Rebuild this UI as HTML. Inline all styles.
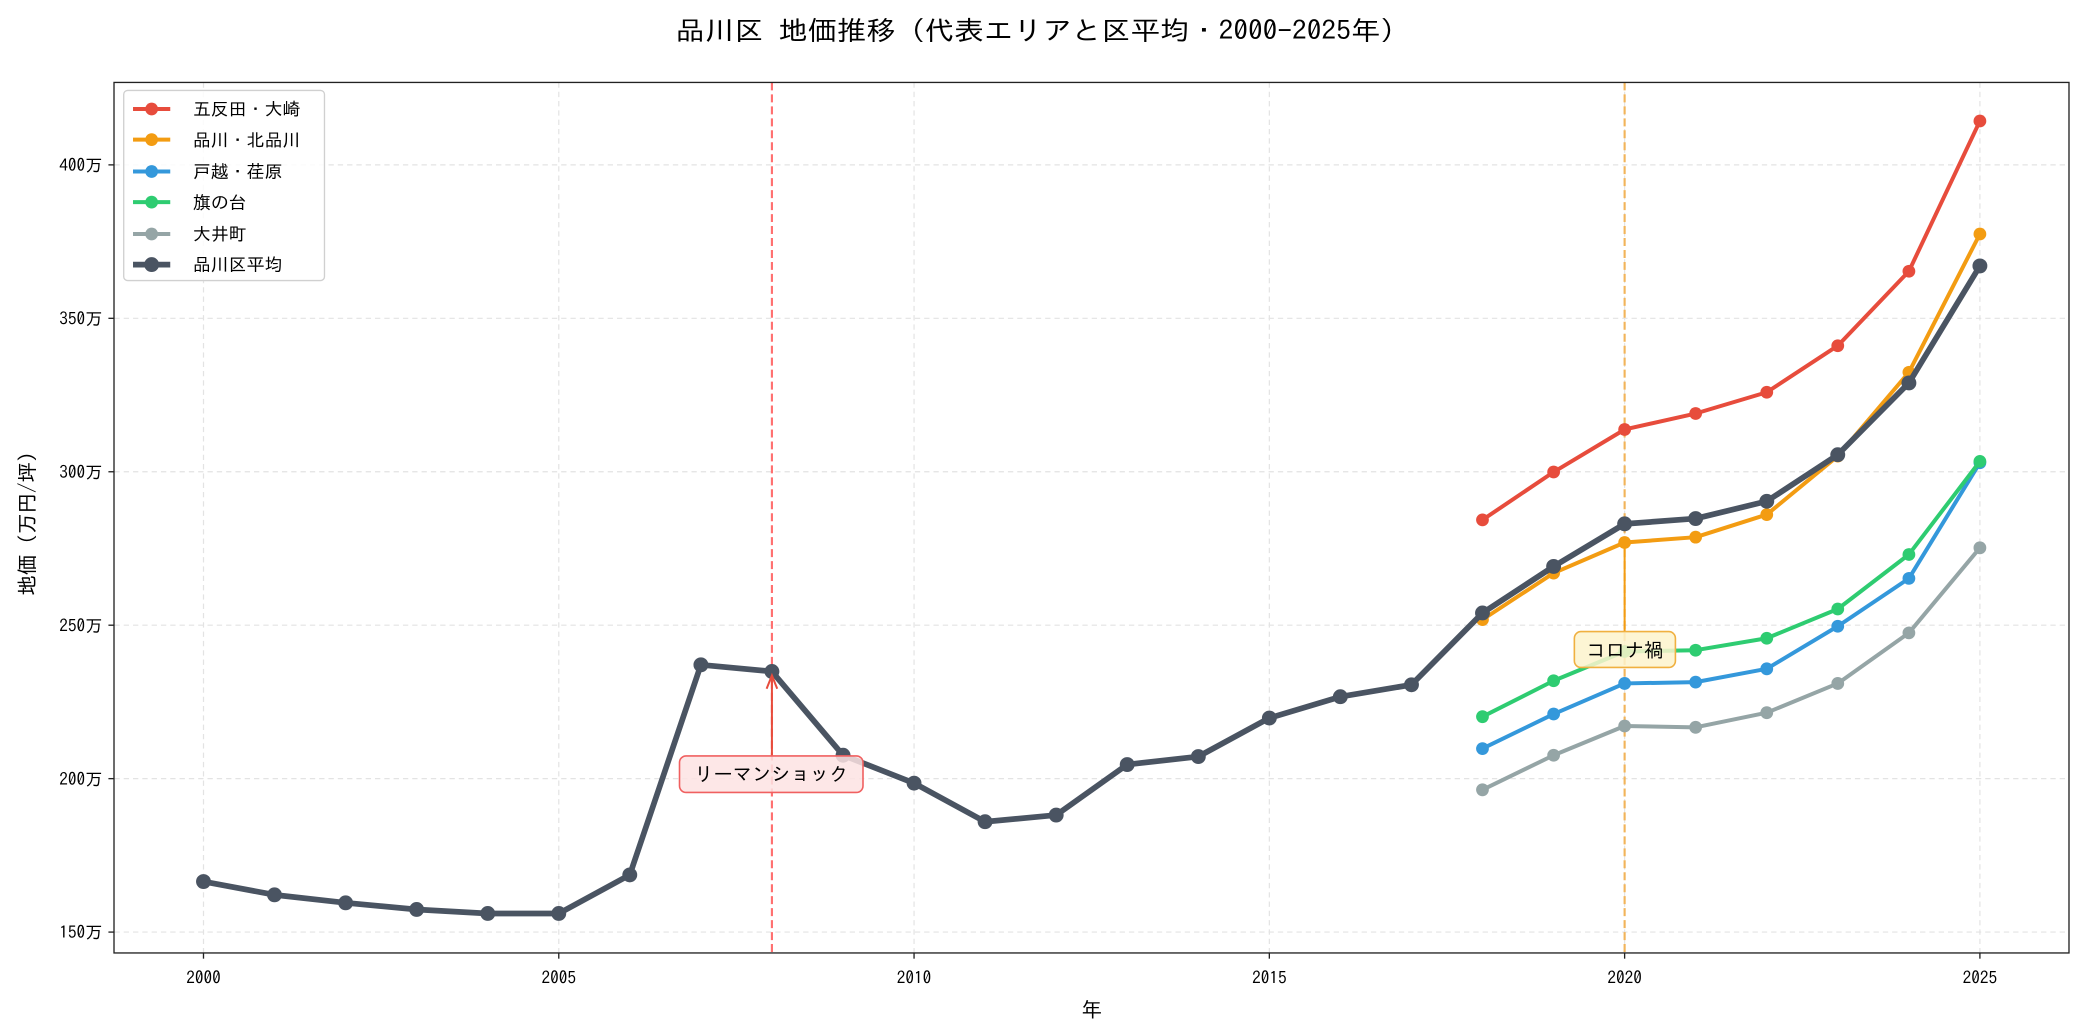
<!DOCTYPE html>
<html><head><meta charset="utf-8"><style>
html,body{margin:0;padding:0;background:#fff}
svg{display:block}
text{font-family:"IPAGothic","Liberation Sans","Noto Sans CJK JP",sans-serif;fill:#000}
</style></head><body>
<svg width="2085" height="1035" viewBox="0 0 1568 778.4" xmlns="http://www.w3.org/2000/svg">
<defs>
<marker id="mr" markerUnits="userSpaceOnUse" markerWidth="12" markerHeight="12" refX="6" refY="6"><circle cx="6" cy="6" r="4.8" fill="#e74c3c"/></marker>
<marker id="mo" markerUnits="userSpaceOnUse" markerWidth="12" markerHeight="12" refX="6" refY="6"><circle cx="6" cy="6" r="4.8" fill="#f39c12"/></marker>
<marker id="mb" markerUnits="userSpaceOnUse" markerWidth="12" markerHeight="12" refX="6" refY="6"><circle cx="6" cy="6" r="4.8" fill="#3498db"/></marker>
<marker id="mg" markerUnits="userSpaceOnUse" markerWidth="12" markerHeight="12" refX="6" refY="6"><circle cx="6" cy="6" r="4.8" fill="#2ecc71"/></marker>
<marker id="mgr" markerUnits="userSpaceOnUse" markerWidth="12" markerHeight="12" refX="6" refY="6"><circle cx="6" cy="6" r="4.8" fill="#95a5a6"/></marker>
<marker id="ma" markerUnits="userSpaceOnUse" markerWidth="14" markerHeight="14" refX="7" refY="7"><circle cx="7" cy="7" r="5.6" fill="#4a5462"/></marker>
</defs>
<text x="784" y="30" font-size="20" text-anchor="middle" textLength="552" lengthAdjust="spacingAndGlyphs">品川区 地価推移（代表エリアと区平均・2000-2025年）</text>
<g stroke="#e3e3e3" stroke-width="0.9" stroke-dasharray="4,3">
<line x1="153" y1="62" x2="153" y2="717"/><line x1="420.2" y1="62" x2="420.2" y2="717"/><line x1="687.4" y1="62" x2="687.4" y2="717"/><line x1="954.6" y1="62" x2="954.6" y2="717"/><line x1="1221.8" y1="62" x2="1221.8" y2="717"/><line x1="1489" y1="62" x2="1489" y2="717"/>
<line x1="86" y1="701" x2="1556" y2="701"/><line x1="86" y1="585.6" x2="1556" y2="585.6"/><line x1="86" y1="470.2" x2="1556" y2="470.2"/><line x1="86" y1="354.8" x2="1556" y2="354.8"/><line x1="86" y1="239.4" x2="1556" y2="239.4"/><line x1="86" y1="124" x2="1556" y2="124"/>
</g>
<line x1="580.5" y1="62" x2="580.5" y2="717" stroke="#ff7070" stroke-width="1.6" stroke-dasharray="6,3"/>
<line x1="1221.8" y1="62" x2="1221.8" y2="717" stroke="#f2b45a" stroke-width="1.6" stroke-dasharray="6,3"/>
<g fill="none" stroke-linejoin="round">
<polyline stroke="#e74c3c" stroke-width="3" marker-start="url(#mr)" marker-mid="url(#mr)" marker-end="url(#mr)" points="1114.9,391 1168.4,355 1221.8,323 1275.2,311 1328.7,295 1382.1,260 1435.6,204 1489,91"/>
<polyline stroke="#f39c12" stroke-width="3" marker-start="url(#mo)" marker-mid="url(#mo)" marker-end="url(#mo)" points="1114.9,466 1168.4,431 1221.8,408 1275.2,404 1328.7,387 1382.1,343 1435.6,280 1489,176"/>
<polyline stroke="#3498db" stroke-width="3" marker-start="url(#mb)" marker-mid="url(#mb)" marker-end="url(#mb)" points="1114.9,563 1168.4,537 1221.8,514 1275.2,513 1328.7,503 1382.1,471 1435.6,435 1489,348"/>
<polyline stroke="#2ecc71" stroke-width="3" marker-start="url(#mg)" marker-mid="url(#mg)" marker-end="url(#mg)" points="1114.9,539 1168.4,512 1221.8,490 1275.2,489 1328.7,480 1382.1,458 1435.6,417 1489,347"/>
<polyline stroke="#95a5a6" stroke-width="3" marker-start="url(#mgr)" marker-mid="url(#mgr)" marker-end="url(#mgr)" points="1114.9,594 1168.4,568 1221.8,546 1275.2,547 1328.7,536 1382.1,514 1435.6,476 1489,412"/>
<polyline stroke="#4a5462" stroke-width="4.3" marker-start="url(#ma)" marker-mid="url(#ma)" marker-end="url(#ma)" points="153,663 206.4,673 259.9,679 313.3,684 366.8,687 420.2,687 473.6,658 527.1,500 580.5,505 634,568 687.4,589 740.8,618 794.3,613 847.7,575 901.2,569 954.6,540 1008,524 1061.5,515 1114.9,461 1168.4,426 1221.8,394 1275.2,390 1328.7,377 1382.1,342 1435.6,288 1489,200"/>
</g>
<line x1="580.5" y1="568" x2="580.5" y2="510" stroke="#e74c3c" stroke-width="1.5"/>
<path d="M576.5,518 L580.5,508 L584.5,518" fill="none" stroke="#e74c3c" stroke-width="1.5"/>
<rect x="511" y="568.5" width="138" height="27.5" rx="5" fill="#fde3e3" fill-opacity="0.85" stroke="#f06060" stroke-width="1.2"/>
<text x="580" y="587.5" font-size="14.5" text-anchor="middle">リーマンショック</text>
<line x1="1221.8" y1="475" x2="1221.8" y2="412" stroke="#f39c12" stroke-width="1.5"/>
<rect x="1184" y="475" width="76" height="27" rx="5" fill="#fdf3cc" fill-opacity="0.85" stroke="#f0b040" stroke-width="1.2"/>
<text x="1222" y="494" font-size="14.5" text-anchor="middle">コロナ禍</text>
<rect x="85.7" y="62" width="1470.3" height="654.7" fill="none" stroke="#222" stroke-width="1"/>
<g stroke="#222" stroke-width="1">
<line x1="153" y1="717" x2="153" y2="721"/><line x1="420.2" y1="717" x2="420.2" y2="721"/><line x1="687.4" y1="717" x2="687.4" y2="721"/><line x1="954.6" y1="717" x2="954.6" y2="721"/><line x1="1221.8" y1="717" x2="1221.8" y2="721"/><line x1="1489" y1="717" x2="1489" y2="721"/>
<line x1="81.5" y1="701" x2="85.7" y2="701"/><line x1="81.5" y1="585.6" x2="85.7" y2="585.6"/><line x1="81.5" y1="470.2" x2="85.7" y2="470.2"/><line x1="81.5" y1="354.8" x2="85.7" y2="354.8"/><line x1="81.5" y1="239.4" x2="85.7" y2="239.4"/><line x1="81.5" y1="124" x2="85.7" y2="124"/>
</g>
<g font-size="13" text-anchor="middle">
<text x="153" y="740">2000</text><text x="420.2" y="740">2005</text><text x="687.4" y="740">2010</text><text x="954.6" y="740">2015</text><text x="1221.8" y="740">2020</text><text x="1489" y="740">2025</text>
</g>
<g font-size="13" text-anchor="end">
<text x="77" y="706">150万</text><text x="77" y="590.6">200万</text><text x="77" y="475.2">250万</text><text x="77" y="359.8">300万</text><text x="77" y="244.4">350万</text><text x="77" y="129">400万</text>
</g>
<text x="821" y="765" font-size="15.5" text-anchor="middle">年</text>
<text transform="translate(26,390) rotate(-90)" font-size="15.5" text-anchor="middle">地価（万円/坪）</text>
<rect x="93" y="68" width="151" height="143" rx="3" fill="#fff" fill-opacity="0.85" stroke="#d0d0d0" stroke-width="1"/>
<g stroke-width="3">
<line x1="100" y1="82" x2="128" y2="82" stroke="#e74c3c"/><circle cx="114" cy="82" r="4.8" fill="#e74c3c"/>
<line x1="100" y1="105" x2="128" y2="105" stroke="#f39c12"/><circle cx="114" cy="105" r="4.8" fill="#f39c12"/>
<line x1="100" y1="129" x2="128" y2="129" stroke="#3498db"/><circle cx="114" cy="129" r="4.8" fill="#3498db"/>
<line x1="100" y1="152" x2="128" y2="152" stroke="#2ecc71"/><circle cx="114" cy="152" r="4.8" fill="#2ecc71"/>
<line x1="100" y1="176" x2="128" y2="176" stroke="#95a5a6"/><circle cx="114" cy="176" r="4.8" fill="#95a5a6"/>
<line x1="100" y1="199" x2="128" y2="199" stroke="#4a5462" stroke-width="4.3"/><circle cx="114" cy="199" r="5.6" fill="#4a5462"/>
</g>
<g font-size="13.5">
<text x="145" y="87">五反田・大崎</text><text x="145" y="110">品川・北品川</text><text x="145" y="134">戸越・荏原</text><text x="145" y="157">旗の台</text><text x="145" y="181">大井町</text><text x="145" y="204">品川区平均</text>
</g>
</svg>
</body></html>
